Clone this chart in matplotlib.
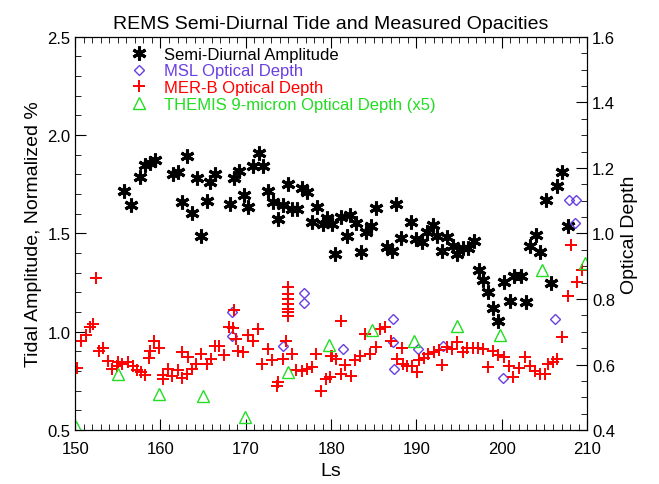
import matplotlib
matplotlib.use('Agg')
import matplotlib.pyplot as plt
from matplotlib.ticker import MultipleLocator

plt.rcParams['font.family'] = ['Liberation Sans', 'DejaVu Sans']

# ----- Semi-diurnal amplitude (left axis)
amp_ls = [155.7, 156.6, 157.6, 158.2, 158.8, 159.4, 161.5, 162.0, 163.1, 162.5, 163.7, 164.3,
          164.8, 165.4, 165.8, 166.4, 168.1, 168.6, 169.2, 169.8, 170.3, 170.9, 171.5, 172.0,
          172.6, 173.2, 173.8, 174.3, 174.9, 175.4, 176.0, 176.6, 177.2, 177.8, 178.4, 179.0,
          179.5, 180.1, 180.4, 181.1, 182.2, 182.9, 181.8, 183.5, 184.1, 184.7, 185.3, 186.5,
          187.1, 187.6, 188.2, 189.4, 190.0, 190.6, 191.2, 191.9, 192.4, 193.0, 193.6, 194.3,
          194.8, 195.4, 196.0, 196.7, 197.3, 197.8, 198.4, 199.0, 199.6, 200.2, 200.9, 201.4,
          202.2, 202.8, 203.3, 204.0, 204.5, 205.2, 205.8, 206.5, 207.1, 207.7]
amp_val = [1.716, 1.645, 1.788, 1.849, 1.859, 1.874, 1.803, 1.813, 1.894, 1.660, 1.604, 1.782,
           1.487, 1.665, 1.762, 1.803, 1.650, 1.782, 1.818, 1.696, 1.635, 1.843, 1.910, 1.843,
           1.716, 1.660, 1.574, 1.645, 1.752, 1.625, 1.625, 1.732, 1.711, 1.559, 1.635, 1.548,
           1.579, 1.548, 1.396, 1.584, 1.594, 1.553, 1.487, 1.406, 1.508, 1.538, 1.630, 1.431,
           1.411, 1.650, 1.477, 1.559, 1.472, 1.457, 1.508, 1.543, 1.487, 1.411, 1.482, 1.436,
           1.396, 1.426, 1.426, 1.462, 1.314, 1.263, 1.202, 1.121, 1.055, 1.253, 1.156, 1.284,
           1.284, 1.151, 1.436, 1.492, 1.406, 1.670, 1.248, 1.742, 1.813, 1.538]

# ----- MSL optical depth (right axis)
msl_ls = [168.4, 168.4, 174.4, 176.8, 176.8, 181.4, 187.3, 187.3, 187.4, 190.2, 193.1, 200.1,
          206.2, 207.9, 208.7, 208.6]
msl_tau = [0.760, 0.687, 0.656, 0.818, 0.788, 0.647, 0.739, 0.669, 0.586, 0.647, 0.656, 0.559,
           0.739, 1.102, 1.102, 1.032]

# ----- MER-B optical depth
mer_ls = [150.2, 150.7, 151.3, 151.8, 152.1, 152.5, 152.8, 153.3, 153.9, 154.3, 154.9, 155.0,
          155.5, 156.2, 156.8, 157.3, 157.7, 158.2, 158.7, 158.8, 159.3, 159.8, 160.3, 160.3,
          160.9, 161.4, 162.1, 162.5, 162.5, 163.1, 163.2, 163.7, 164.2, 164.8, 165.4, 165.9,
          166.4, 166.9, 167.5, 168.0, 168.6, 168.5, 168.8, 169.1, 169.7, 170.3, 170.9, 171.4,
          171.9, 172.6, 173.1, 173.7, 173.8, 174.3, 174.7, 175.0, 175.0, 175.0, 175.0, 175.0,
          175.0, 175.0, 175.4, 175.9, 176.6, 177.2, 177.8, 178.2, 178.8, 179.4, 180.0, 179.9,
          180.1, 180.6, 181.2, 181.2, 181.6, 182.3, 182.8, 183.4, 184.0, 184.6, 185.2, 185.7,
          186.3, 187.0, 187.7, 188.3, 188.4, 188.9, 189.5, 190.1, 190.3, 190.9, 191.4, 192.0,
          192.6, 193.0, 193.6, 194.2, 194.8, 195.4, 195.9, 196.6, 197.2, 197.8, 198.4, 199.0,
          199.6, 200.2, 200.8, 201.3, 202.0, 202.7, 203.3, 203.9, 204.5, 205.1, 205.4, 206.0,
          206.5, 207.0, 207.7, 208.1, 208.8, 209.4]
mer_tau = [0.589, 0.672, 0.690, 0.714, 0.724, 0.864, 0.641, 0.650, 0.611, 0.586, 0.595, 0.608,
           0.602, 0.608, 0.595, 0.583, 0.577, 0.568, 0.620, 0.641, 0.672, 0.650, 0.568, 0.556,
           0.586, 0.565, 0.583, 0.559, 0.638, 0.571, 0.623, 0.586, 0.602, 0.632, 0.602, 0.617,
           0.656, 0.656, 0.629, 0.714, 0.766, 0.711, 0.678, 0.641, 0.638, 0.690, 0.672, 0.708,
           0.602, 0.647, 0.614, 0.534, 0.547, 0.617, 0.672, 0.837, 0.815, 0.800, 0.785, 0.769,
           0.760, 0.748, 0.632, 0.583, 0.580, 0.586, 0.592, 0.632, 0.519, 0.556, 0.626, 0.562,
           0.626, 0.617, 0.733, 0.571, 0.598, 0.565, 0.614, 0.626, 0.693, 0.632, 0.653, 0.708,
           0.714, 0.672, 0.617, 0.650, 0.602, 0.595, 0.595, 0.577, 0.614, 0.620, 0.632, 0.638,
           0.644, 0.598, 0.653, 0.647, 0.669, 0.638, 0.650, 0.650, 0.650, 0.647, 0.592, 0.641,
           0.629, 0.623, 0.595, 0.562, 0.589, 0.623, 0.595, 0.580, 0.571, 0.571, 0.602, 0.608,
           0.617, 0.684, 0.809, 0.965, 0.852, 0.888]

# ----- THEMIS 9-micron (x5)
themis_ls = [150.1, 155.0, 159.8, 165.0, 169.9, 174.9, 179.8, 184.8, 189.7, 194.8, 199.8, 204.7, 209.7]
themis_tau = [0.409, 0.571, 0.510, 0.504, 0.440, 0.577, 0.660, 0.705, 0.672, 0.718, 0.690, 0.889, 0.910]

fig = plt.figure(figsize=(6.59, 4.85), dpi=100)
ax1 = fig.add_axes([0.114, 0.111, 0.777, 0.811])
ax2 = ax1.twinx()

ax1.plot(amp_ls, amp_val, linestyle='none', marker=(6, 2, 0), ms=10, mew=2.2,
         color='black', label='Semi-Diurnal Amplitude')
ax2.plot(msl_ls, msl_tau, linestyle='none', marker='D', ms=5, mfc='none', mew=1.0,
         color='#6a3fe0', label='MSL Optical Depth')
ax2.plot(mer_ls, mer_tau, linestyle='none', marker='+', ms=8, mew=1.4,
         color='red', label='MER-B Optical Depth')
ax2.plot(themis_ls, themis_tau, linestyle='none', marker='^', ms=8, mfc='none', mew=1.0,
         color='#22dd22', label='THEMIS 9-micron Optical Depth (x5)')

ax1.set_xlim(150, 210)
ax1.set_ylim(0.5, 2.5)
ax2.set_ylim(0.4, 1.6)
ax1.xaxis.set_major_locator(MultipleLocator(10))
ax1.xaxis.set_minor_locator(MultipleLocator(1))
ax1.yaxis.set_major_locator(MultipleLocator(0.5))
ax1.yaxis.set_minor_locator(MultipleLocator(0.1))
ax2.yaxis.set_major_locator(MultipleLocator(0.2))
ax2.yaxis.set_minor_locator(MultipleLocator(0.05))
for a in (ax1, ax2):
    a.tick_params(which='major', direction='in', length=8, labelsize=12)
    a.tick_params(which='minor', direction='in', length=4)
ax1.tick_params(axis='x', top=True, which='both', pad=8)
ax1.set_xlabel('Ls', fontsize=14)
ax1.set_ylabel('Tidal Amplitude, Normalized %', fontsize=14)
ax2.set_ylabel('Optical Depth', fontsize=14)
ax1.set_title('REMS Semi-Diurnal Tide and Measured Opacities', fontsize=14)

h1, l1 = ax1.get_legend_handles_labels()
h2, l2 = ax2.get_legend_handles_labels()
leg = ax1.legend(h1 + h2, l1 + l2, loc='upper left', frameon=False, fontsize=12,
                 handletextpad=0.8, labelspacing=0.1, borderaxespad=0.2, handlelength=1.5,
                 bbox_to_anchor=(0.08, 1.0))
for t, h in zip(leg.get_texts(), h1 + h2):
    t.set_color(h.get_color())

fig.savefig('out.png', dpi=100)
